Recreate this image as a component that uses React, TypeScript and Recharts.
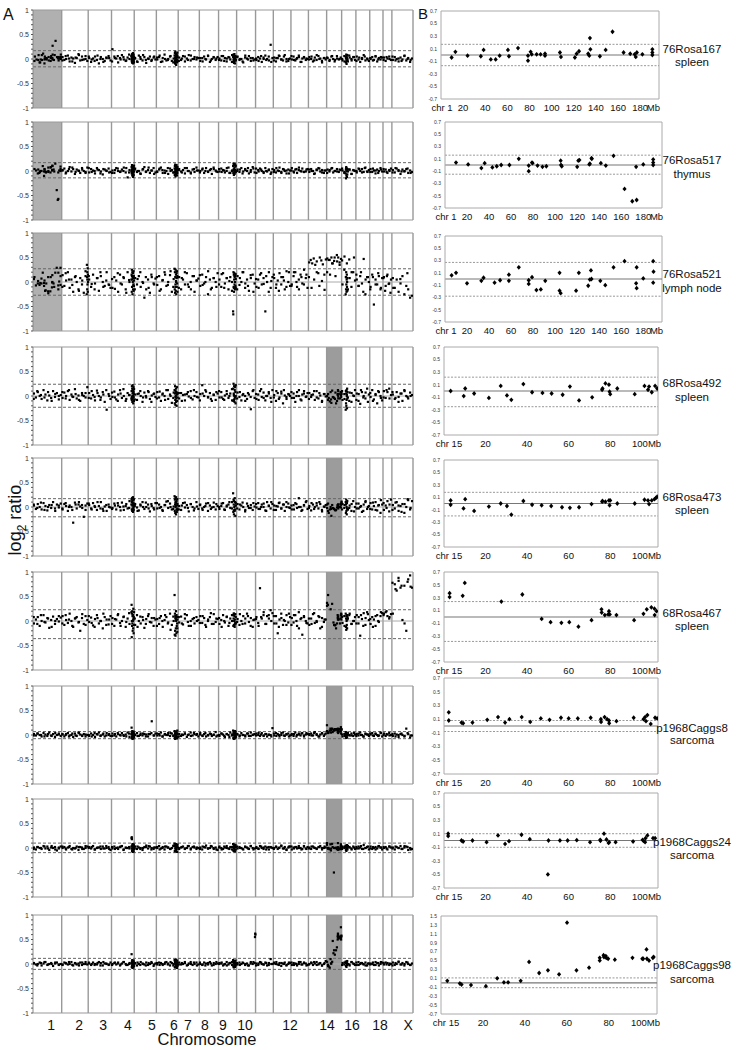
import React from 'react';
import { ScatterChart, Scatter, XAxis, YAxis, ReferenceLine, ReferenceArea } from 'recharts';

// ---------------- DATA ----------------
const CHR_NAMES = ['1','2','3','4','5','6','7','8','9','10','11','12','13','14','15','16','17','18','19','X'];
const CHR_SIZES_MB = [197,182,160,156,152,150,145,132,124,130,122,121,120,125,103,98,95,91,61,145];
const CHR_AXIS_LABELS = ['1','2','3','4','5','6','7','8','9','10','12','14','16','18','X'];
const CHR_AXIS_LABEL_POS = [124,316,481,652,817,968,1064,1181,1304,1456,1765,2019,2190,2382,2575];

const SAMPLES = ['76Rosa167','76Rosa517','76Rosa521','68Rosa492','68Rosa473','68Rosa467','p1968Caggs8','p1968Caggs24','p1968Caggs98'];
const TISSUES = ['spleen','thymus','lymph node','spleen','spleen','spleen','sarcoma','sarcoma','sarcoma'];
const ZOOM_CHR = [1,1,1,15,15,15,15,15,15];

const LEFT_UPPER = [0.17,0.17,0.27,0.24,0.17,0.23,0.07,0.1,0.115];
const LEFT_LOWER = [-0.16,-0.14,-0.27,-0.23,-0.2,-0.36,-0.075,-0.095,-0.11];
const RIGHT_UPPER = [0.17,0.16,0.27,0.22,0.18,0.24,0.08,0.1,0.11];
const RIGHT_LOWER = [-0.17,-0.15,-0.28,-0.25,-0.2,-0.38,-0.08,-0.1,-0.11];

const LEFT_Y_TICKS = [-1,-0.9,-0.8,-0.7,-0.6,-0.5,-0.4,-0.3,-0.2,-0.1,0,0.1,0.2,0.3,0.4,0.5,0.6,0.7,0.8,0.9,1];
const RIGHT_Y_TICKS = [-0.7,-0.5,-0.3,-0.1,0.1,0.3,0.5,0.7];
const RIGHT_Y_TICKS_WIDE = [-0.7,-0.5,-0.3,-0.1,0.1,0.3,0.5,0.7,0.9,1.1,1.3,1.5];
const CHR1_TICKS = [1,20,40,60,80,100,120,140,160,180,192];
const CHR1_TICK_LABELS = ['chr 1','20','40','60','80','100','120','140','160','180','Mb'];
const CHR15_TICKS = [2.4,20,40,60,80,97.5];
const CHR15_TICK_LABELS = ['chr 15','20','40','60','80','100Mb'];

// genome-wide log2 ratios (hundredths), one string per chromosome; "" = taken from zoom data
const LEFT_1 = [
  "", "4 -2 0 7 -5 3 1 -8 2 10 -3 5 -1 6 -4", "2 -6 1 5 -2 -9 4 0 -4 2 6 -3", "20 5 1 -7 2 8 -1 -4 3 0 6 -2",
  "2 -5 7 0 -3 4 -8 1 5 -2 3 -1", "-1 4 -6 2 9 -3 0 5 -4 1 -2 6", "3 -2 6 -5 1 8 -3 0 4 -1 2", "-4 2 5 -1 7 -6 0 3 -2 4",
  "1 -3 6 2 -5 4 -1 8 0 -2", "5 -2 0 -7 3 1 6 -4 2 -1", "-2 4 1 -6 3 7 0 -3 29 2", "3 -5 2 6 -1 -3 8 0 -4 1",
  "-1 5 -3 2 7 -6 1 4 -2 0", "4 0 -5 3 -2 6 1 -7 2 -1", "2 -4 5 0 -2 6 -1 3", "-3 6 1 -5 3 0 4 -2",
  "5 -1 -6 2 8 -3 1 -4", "0 4 -2 6 -5 2 -1 3", "3 -4 1 5 -2", "-2 4 0 -5 3 -1 6 -3 2 -6 1"];
const LEFT_1B = [
  "", "-3 6 1 -5 3 8 -2 0", "5 -1 -4 7 0 -6 3 2", "-5 2 6 -1 4 -3 9 0", "1 -6 4 8 -2 0 -4 5", "3 7 -5 0 -2 6 -7 2",
  "-4 1 5 -2 7 0 3", "2 -5 0 6 -3 4 1", "-2 6 -4 1 3 -6 5", "4 0 -5 7 -1 2 -3", "1 -4 6 0 -2 5 -6", "-3 2 7 -1 5 -5 0",
  "6 -2 0 4 -6 3 1", "-1 5 -3 8 0 -4 2", "3 -2 6 -5 1 0", "0 -5 2 7 -3 4", "-4 3 0 5 -1", "2 -3 5 -1 4", "-2 4 0",
  "5 -3 1 -4 7 0 -2"];
const LEFT_2 = [
  "", "2 5 -3 0 8 -1 4 -6 3 1 -4 6 0 -2 7", "-3 4 1 -5 6 2 -1 -7 3 0 5 -2", "1 -4 6 0 -2 3 7 -3 -13 2 -1 4",
  "5 -2 0 -6 3 8 -1 2 -4 1 6 -3", "-2 3 7 -4 1 0 -6 5 2 -3 4 1", "4 -1 2 -5 6 0 -3 3 -2 7 1", "0 3 -4 6 -1 2 -6 4 1 -2",
  "-1 5 2 -3 0 7 -4 1 3 -2", "3 -2 6 -1 4 0 -5 2 8 -3", "-4 2 5 0 -2 6 -1 3 -6 4", "2 -3 1 7 -2 4 0 -5 3 1",
  "6 -1 3 -4 2 0 5 -2 -1 4", "-2 4 0 -5 3 6 -1 2 -4 1", "3 -1 5 -3 0 4 -2 2", "1 -4 6 -1 3 -6 2 0",
  "-3 5 0 4 -2 7 -1 2", "4 -2 1 -5 3 0 6 -1", "-1 3 -4 2 5", "2 -3 5 0 -6 3 -1 4 -4 1 -2"];
const LEFT_2B = [
  "", "1 -5 4 7 -2 0 3 -4", "6 -2 0 3 -5 4 1 -3", "-4 2 5 -1 0 6 -3 2", "3 0 -5 4 -2 7 1 -6", "-1 5 2 -4 6 0 -3 3",
  "2 -3 6 0 -5 4 1", "-3 5 0 -2 4 7 -1", "4 -2 1 6 -4 0 2", "0 3 -5 2 6 -2 5", "5 -1 3 -4 0 2 -3", "-2 6 0 -4 3 1 -5",
  "1 -3 4 7 -1 -2 3", "3 0 -6 2 5 -3 1", "-4 2 6 0 -1 3", "5 -2 0 3 -6 1", "0 4 -3 6 -2", "-2 5 1 -4 3", "4 -2 0",
  "-3 6 2 -1 0 5 -4"];
const LEFT_3 = [
  "", "14 -8 3 20 -12 5 -20 10 0 -15 8 -5 -22 12 5", "5 -10 15 -3 8 -18 12 0 -8 20 -5 -12", "-12 10 3 -20 15 -5 8 -15 20 0 5 -8",
  "8 -5 12 -10 0 -32 -15 5 -22 10 -3 7", "-6 12 -15 4 20 -8 0 14 -20 6 -10 9", "10 -15 5 -5 18 -10 0 12 -20 3 7", "-8 15 -3 10 -25 5 -12 8 0 18",
  "5 -10 18 -3 8 -15 10 0 -12 6", "12 -6 0 20 -12 5 -18 8 15 -3", "-10 5 15 -5 8 -60 0 20 -12 10", "8 -12 3 18 -5 10 -15 22 0 -8",
  "-5 12 20 -10 5 15 -3 25 8 -12", "40 45 38 48 35 42 18 50 44 36 15 46", "48 45 15 50 38 43 12 55 50 40 47", "-5 25 10 -15 8 -10 20 3",
  "5 -8 12 -3 47 -25 10 0", "-10 15 -46 5 -5 12 -15 8", "10 -8 15 -3 5", "8 -12 5 -20 -3 12 -25 -8 -15 -32 -28"];
const LEFT_3B = [
  "", "-10 18 5 -6 12 -18 3 22", "12 -4 -15 8 20 -10 3 -6", "6 -14 18 -3 10 -22 4 12", "-15 6 20 -2 10 -12 15 -5",
  "10 -18 3 15 -6 22 -10 2", "-12 8 20 -5 -15 12 3", "14 -6 0 22 -15 8 -10", "-5 16 -12 8 2 -18 12", "-15 8 20 -3 -8 14 -20",
  "6 -12 18 -4 12 -20 2", "15 -5 -18 10 3 -10 20", "-8 20 0 -15 10 -5 15", "10 -12 5 20 -8 2 -16", "20 45 38 50 42 35",
  "44 52 38 46 20 50", "15 -8 20 -20 5 10", "-15 10 -5 18 -12", "8 -18 12 -4 -22", "-12 6 18", "-10 15 -18 5 -22 -12 0"];
const LEFT_4 = [
  "5 -3 8 0 -6 12 3 -9 1 -4 10 -2 6 -7 2", "-4 7 0 10 -8 3 -2 14 -5 1 -10 6 0 -3 18", "6 -5 2 -9 11 0 -3 8 -12 -28 4 -6", "-2 9 -7 3 12 -4 0 -10 6 2 -5 8",
  "3 -8 5 0 -12 7 -3 10 -6 1 4 -2", "8 -3 -10 5 0 12 -6 3 -14 7 -2 4", "-5 6 2 -9 4 -1 10 -7 0 8 -3", "4 22 0 9 -3 6 -10 2 -8 5",
  "-3 8 -6 1 10 -4 5 -9 2 0", "7 -2 -9 4 0 -6 3 -27 10 -4", "-6 3 10 -2 7 -9 0 5 -4 12", "2 -10 6 -3 9 -15 1 -6 4 0",
  "-4 5 -12 8 0 -7 3 10 -2 6", "6 -2 3 -8 10 -5 1 -10 4 -1", "", "-8 4 10 -3 7 -12 1 12",
  "5 -10 -16 8 0 -5 15 3", "-2 12 -7 4 -15 8 0 -9", "10 -4 8 15 2", "3 -6 8 -2 5 -10 12 0 -5 7 2"];
const LEFT_4B = [
  "-6 10 2 -3 8 -10 4 0", "8 -5 12 -1 4 -8 2 6", "-4 10 -2 6 -8 3 12 0", "7 -3 -10 5 14 -6 2 -1", "-7 4 10 -3 0 8 -12 5",
  "-5 9 3 -8 12 0 -4 6", "6 -10 3 8 -4 12 -2", "-9 5 12 -2 -6 3 8", "10 -3 -8 4 0 14 -6", "-5 8 2 -10 6 -2 12",
  "4 -8 14 -4 0 8 -12", "-3 10 -6 5 12 -2 3", "8 -4 0 12 -9 5 -1", "-6 2 10 -3 6 -12 4", "", "10 -6 3 -10 6 0",
  "-8 4 12 -3 7 -12", "6 -10 2 10 -4", "-3 12 -5", "8 -4 -12 5 10 -2 0"];
const LEFT_5 = [
  "3 -4 6 0 -5 8 2 -7 4 -2 10 -3 5 -1 7", "-5 6 2 -8 3 0 -32 9 -3 5 1 4 -20 -6 7", "4 -3 8 0 -6 2 10 -4 1 -8 5 -1", "-2 7 -5 3 0 9 -6 2 -3 12 5 -4",
  "6 -1 -7 3 10 -4 0 5 -9 2 -2 8", "-3 5 0 -8 4 11 -2 7 -5 1 9 -6", "2 -6 8 -1 4 -9 6 0 -3 10 -4", "5 -3 0 7 -8 3 -1 9 -5 2",
  "-4 2 8 -6 1 5 -2 10 -7 3", "6 -5 3 0 -9 7 -2 4 -6 1", "-1 8 -4 5 0 -7 10 2 -3 6", "3 -6 1 9 -3 5 -8 0 7 -2",
  "-5 4 8 -2 18 0 -6 3 10 -4", "2 -7 5 0 8 -3 6 -9 1 4", "", "6 -2 9 -5 3 -8 12 0",
  "-3 7 0 -10 5 10 -4 2", "8 -5 2 10 -7 4 -12 5", "-6 3 12 -9 15", "4 -3 10 -8 2 6 -12 0 14 -5 12"];
const LEFT_5B = [
  "5 -2 9 -6 0 4 -8 3", "-3 8 0 -6 5 10 -2 3", "7 -5 2 10 -3 -8 4 0", "-4 3 8 -7 1 6 -2 10", "2 -8 5 0 9 -3 6 -5",
  "8 -2 -6 4 12 0 -4 3", "-5 3 9 -2 6 -7 1", "4 -6 2 8 -4 0 6", "0 7 -5 3 10 -3 -7", "-3 5 9 -6 2 -2 8",
  "6 -4 0 7 -8 3 10", "-6 2 8 -3 5 10 -1", "3 -5 6 0 -8 4 12", "-2 8 -4 3 10 -6 0", "", "-5 4 10 -2 6 -9",
  "7 -3 2 -8 12 0", "-4 9 -6 3 14", "8 -2 5", "-6 9 3 -10 6 16 -2"];
const LEFT_6 = [
  "-5 3 8 -10 0 12 -3 6 -14 2 9 -6 4 -1 7", "10 -8 2 -4 15 0 -12 5 8 -3 -20 6 -6 10 2", "-2 7 -9 4 12 -5 0 -15 8 3 -7 10", "6 -10 3 14 -4 0 9 -12 5 -6 18 2",
  "-8 12 0 -5 8 -14 4 10 -2 6 -10 3", "4 -6 10 -12 2 8 -3 15 -8 0 6 -15", "-3 9 -7 5 12 -10 0 4 -5 8 2", "10 -4 6 -12 0 8 -6 14 -2 4",
  "-6 2 12 -3 8 -10 5 0 15 -5", "4 -8 0 10 -5 15 -2 6 -12 3", "8 -4 67 5 12 -6 10 5 22 16", "-5 10 -25 3 15 -8 0 12 -3 8",
  "6 -3 12 -10 18 4 -28 8 0 -5", "-8 5 14 -4 0 10 -15 6 -2 3", "", "-4 10 -12 5 15 -6 0 8",
  "12 -5 -30 4 16 -8 18 2", "-6 8 3 -10 12 -2 10 16", "15 18 10 5 14", "15 75 62 82 68 2 72 -20 85 93 68"];
const LEFT_6B = [
  "8 -6 12 -2 5 -12 0 10", "-5 12 3 -10 6 -2 14 -8", "10 -4 -12 6 0 15 -8 3", "-6 4 12 -10 8 -2 16 0", "5 -12 9 2 -6 14 -3 6",
  "-10 6 0 12 -5 -18 9 3", "8 -5 14 -2 -10 6 0", "-4 10 -8 3 16 -6 5", "6 -12 0 9 -4 12 -8", "-2 14 -6 5 10 -10 2",
  "4 -10 8 18 -6 12 0", "10 -5 -12 6 2 -8 15", "-8 12 0 -15 6 10 -4", "5 -6 16 -2 8 -12 3", "", "8 -10 4 12 -6 0",
  "-5 8 12 -10 6 14", "4 -12 10 0 18", "12 20 8", "78 65 88 72 -5 80 70"];
const LEFT_7 = [
  "2 -1 3 0 -3 4 1 -2 5 -1 2 -4 0 3 -2", "1 -3 2 4 -1 0 -4 3 -2 5 1 -1 2 -3 0", "-2 3 0 -4 2 5 -1 1 -3 4 0 -2", "3 -1 -3 2 0 4 -2 1 5 -4 2 0",
  "0 4 -2 3 -1 2 1 -3 2 28 -1 3", "-1 2 5 -3 1 0 4 -2 3 -1 2 -4", "2 -2 0 3 -4 1 5 -1 2 0 -3", "4 -1 2 -3 0 3 -2 1 6 -1",
  "-2 3 1 -4 2 0 5 -1 3 -2", "1 -3 4 0 -1 3 -2 5 0 2", "3 0 -2 4 -1 2 -3 1 0 14", "-1 4 2 -3 0 5 -2 1 3 -1",
  "2 -2 5 0 3 -1 4 -3 1 2", "0 3 -1 6 2 -3 1 4 -2 3", "", "-3 2 0 4 -1 3 -2 1",
  "2 -1 5 0 -3 3 1 -2", "1 4 -2 3 0 -1 5 -3", "3 -2 1 4 0", "-2 3 1 -4 2 0 -3 13 2 -5 -1"];
const LEFT_7B = [
  "-1 3 0 -3 2 -2 4 1", "2 0 -3 3 -1 4 -2 1", "0 -3 4 1 -2 3 -1 2", "-2 2 4 -1 0 -3 3 1", "1 -2 0 3 -3 2 4 -1",
  "3 -1 -3 2 0 4 -2 1", "-3 1 3 0 -2 4 2", "1 -2 4 -1 2 0 -3", "0 3 -2 2 -4 1 4", "2 -1 0 -3 3 -2 1",
  "-1 4 1 -2 2 0 -3", "3 -2 0 4 -1 2 -3", "0 2 -3 1 3 -1 4", "2 -1 4 0 -3 3 1", "", "1 -2 3 0 -1 4",
  "-2 3 0 -3 2 1", "3 -1 2 -2 4", "0 2 -1", "2 -3 0 3 -2 4 -1"];
const LEFT_8 = [
  "1 -3 2 0 -2 4 -1 3 -4 1 0 2 -5 -1 3", "0 2 -3 1 4 -2 0 -1 3 -4 2 1 -2 0 3", "2 -1 4 -3 0 1 -2 3 -1 0 2 -4", "-1 3 0 -2 2 4 -3 1 0 -1 3 2",
  "3 -2 1 0 -4 2 5 -1 3 0 -2 1", "0 4 -1 2 -3 3 1 -2 0 5 -1 2", "-2 1 3 -1 0 4 -3 2 1 -2 0", "1 -3 2 5 -1 0 3 -2 1 -4",
  "3 0 -2 1 4 -1 2 -3 0 2", "-1 2 0 -3 3 1 -2 4 0 -1", "2 -1 4 0 -2 3 1 -3 2 0", "0 3 -2 1 5 -1 2 -4 1 3",
  "-3 1 2 -1 4 0 -2 3 -1 2", "1 -2 3 0 -1 2 4 -3 0 1", "", "2 0 -3 4 1 -1 3 -2",
  "-1 3 1 -2 6 0 2 -3", "3 -2 0 2 -1 4 1 -3", "0 2 -3 3 1", "1 -3 2 0 4 -2 1 3 -4 0 -2"];
const LEFT_8B = [
  "-2 2 0 3 -1 4 -3 1", "3 -1 2 -3 0 2 -2 4", "0 2 -3 1 3 -1 4 -2", "2 -2 1 3 -4 0 2 -1", "-1 3 -2 0 2 4 -3 1",
  "2 -3 0 3 1 -2 4 -1", "0 2 -2 4 -1 3 1", "-2 3 1 -1 4 0 -3", "1 -3 3 0 -2 2 4", "3 0 -2 2 -1 4 -3",
  "0 -2 3 1 -3 2 1", "-2 2 0 4 -1 -3 3", "3 -1 2 0 -3 4 -2", "-1 3 1 -2 2 0 3", "", "-2 3 0 2 -3 1",
  "2 -1 4 -2 0 3", "-1 2 -3 3 1", "2 -1 3", "-1 3 0 -2 4 2 -3"];
const LEFT_9 = [
  "2 -1 0 3 -3 1 4 -2 0 2 -4 1 3 -1 0", "-2 3 1 -1 0 4 -3 2 -1 1 3 -2 0 4 -1", "1 -2 3 0 -1 4 2 -3 1 0 -2 3", "0 2 -1 3 -3 1 4 0 -2 2 1 -1",
  "2 -3 0 4 1 -1 3 -2 0 2 -4 1", "-1 3 2 -2 0 4 1 -3 2 0 3 -1", "3 -1 0 2 -3 1 4 -2 0 3 -1", "0 -2 3 1 -1 4 -3 2 0 1",
  "2 1 -3 0 4 -1 2 -2 3 0", "-1 3 0 2 -2 1 -3 4 0 2", "1 -2 4 0 -1 3 -3 2 10 0", "3 0 -1 2 -4 1 3 -2 0 2",
  "-2 2 1 -3 0 4 -1 3 1 -2", "0 3 -2 1 4 -1 2 -3 0 6", "", "2 -1 3 0 -3 4 1 -2",
  "-2 4 0 2 -1 3 -3 1", "1 0 -2 4 2 -3 0 3", "-1 3 2 -2 0", "3 -2 0 5 -1 2 -3 4 0 -2 1"];
const LEFT_9B = [
  "1 -3 2 4 -1 0 3 -2", "-1 2 4 -2 1 -3 3 0", "3 0 -2 2 -3 4 1 -1", "-2 3 1 -1 4 -2 0 2", "1 3 -2 0 -3 2 4 -1",
  "2 -2 0 3 -1 4 -3 1", "-1 2 4 -2 0 3 -3", "3 -1 -3 2 1 -2 4", "0 3 -1 -3 2 4 -2", "2 -2 3 0 -3 1 4",
  "-3 1 3 -1 2 -2 0", "1 4 -2 2 0 -3 3", "3 -2 0 4 -1 2 -3", "-1 2 4 -2 1 -3 2", "", "-2 3 1 -1 4 0",
  "3 -2 2 0 -3 1", "-1 3 -2 2 4", "2 -1 1", "-3 2 4 -1 0 3 -2"];

// dense probe clusters: chromosome, start Mb, end Mb, values (hundredths)
const CLUSTERS_1 = [
  { chr: 4, from: 138, to: 155, v: "5 -3 8 -6 2 10 -8 4 -1 7 -4 12 0 -9 3 6 -2 9 -5 1 -7 4" },
  { chr: 6, from: 125, to: 145, v: "7 -4 12 -8 3 15 -10 0 9 -6 5 -12 2 11 -3 8 -7 4 -1 13 -5" },
  { chr: 9, from: 100, to: 118, v: "4 -6 9 -2 7 -8 1 10 -4 3 -9 6 0 5 -3" },
  { chr: 16, from: 28, to: 40, v: "5 -7 2 9 -4 -10 6 0 -3 8 -1" }];
const CLUSTERS_2 = [
  { chr: 4, from: 138, to: 155, v: "8 -5 3 12 -2 -9 6 0 10 -6 4 -12 2 9 -3 7 -8 5 -1 11" },
  { chr: 6, from: 125, to: 145, v: "5 -8 10 -3 13 0 -11 7 -5 3 9 -7 1 12 -2 6 -9 4 -4 8" },
  { chr: 9, from: 100, to: 118, v: "10 -4 15 3 -8 12 0 6 -6 14 2 -3 9 -1 11" },
  { chr: 16, from: 28, to: 40, v: "-5 3 -15 8 -9 0 5 -12 2 -7 4" }];
const CLUSTERS_3 = [
  { chr: 2, from: 172, to: 181, v: "-25 35 10 -15 20 -5 28 -20 15 0" },
  { chr: 4, from: 138, to: 155, v: "15 -20 25 -10 5 20 -25 10 0 18 -15 8 -5 22 -18 12 -8 3" },
  { chr: 6, from: 125, to: 145, v: "27 -15 20 -22 10 -5 25 -18 15 0 -25 8 18 -10 22 -3 12 -20" },
  { chr: 9, from: 100, to: 118, v: "-60 -66 20 -10 15 -20 5 18 -5 10 -15 0 12 -8 16 -12" },
  { chr: 16, from: 28, to: 40, v: "-25 10 -15 20 -5 -20 5 15 -10 0 -18 8" }];
const CLUSTERS_4 = [
  { chr: 4, from: 138, to: 155, v: "10 -8 20 -3 15 -12 5 22 -6 0 12 -15 8 18 -2 4 -10 14" },
  { chr: 6, from: 125, to: 145, v: "12 -15 5 20 -8 -18 10 0 15 -12 -5 8 -20 3 18 -10 6 -3" },
  { chr: 9, from: 100, to: 118, v: "15 -10 25 5 -8 20 0 -12 12 -3 18 8 -15 22" },
  { chr: 16, from: 28, to: 40, v: "-28 10 -15 5 -20 12 -8 0 -25 15 -5 8" }];
const CLUSTERS_5 = [
  { chr: 4, from: 138, to: 155, v: "15 -5 10 18 -8 3 12 -3 8 20 -10 5 14 0 -6 16 2 7" },
  { chr: 6, from: 125, to: 145, v: "22 -8 15 5 -12 18 0 10 -15 20 8 -5 12 -10 3 16 -3 6" },
  { chr: 9, from: 100, to: 118, v: "28 -10 15 5 -15 12 0 -8 18 -5 10 -18 3 8" },
  { chr: 16, from: 28, to: 40, v: "10 -12 5 15 -8 0 -15 8 -3 12 -5" }];
const CLUSTERS_6 = [
  { chr: 4, from: 138, to: 155, v: "33 -33 15 -10 20 -5 10 -20 0 12 -15 25 5 -25 8 -8 18" },
  { chr: 6, from: 125, to: 145, v: "53 -28 15 -20 10 -30 5 -15 20 0 -25 12 -10 8 -5 -22 3" },
  { chr: 9, from: 100, to: 118, v: "12 -10 5 15 -8 0 10 -12 3 -5 14 -3 8" },
  { chr: 16, from: 28, to: 40, v: "15 -12 5 -18 10 0 -8 12 -15 3 8" }];
const CLUSTERS_7 = [
  { chr: 4, from: 138, to: 155, v: "15 -6 5 -3 8 -8 2 6 -5 0 4 -7 7 -2 3 -4" },
  { chr: 6, from: 125, to: 145, v: "8 -5 3 -8 6 0 -3 7 -6 4 -2 5 -7 2 9 -4" },
  { chr: 9, from: 100, to: 118, v: "9 -6 4 -8 7 0 -4 5 -7 2 8 -3 6 -5" },
  { chr: 16, from: 28, to: 40, v: "6 -4 2 -6 5 -2 4 -5 3 0" }];
const CLUSTERS_8 = [
  { chr: 4, from: 138, to: 155, v: "20 22 18 -6 5 -3 8 -8 2 6 -5 0 4 -7 7 -2 3" },
  { chr: 6, from: 125, to: 145, v: "9 -6 4 -7 6 0 -3 8 -5 3 -2 5 -8 2 7" },
  { chr: 9, from: 100, to: 118, v: "8 -5 3 -6 7 0 -4 5 -7 2 6 -3" },
  { chr: 16, from: 28, to: 40, v: "5 -4 2 -6 4 -2 6 0 -3" }];
const CLUSTERS_9 = [
  { chr: 4, from: 138, to: 155, v: "20 -6 5 -3 8 -8 2 6 -5 0 4 -7 7 -2 3 -4" },
  { chr: 6, from: 125, to: 145, v: "8 -6 4 -7 6 0 -3 9 -5 3 -2 5 -8 2 7 -4" },
  { chr: 9, from: 100, to: 118, v: "8 -5 3 -7 6 0 -4 5 -6 2 7 -3" },
  { chr: 10, from: 126, to: 129, v: "55 62 60" },
  { chr: 16, from: 28, to: 40, v: "5 -4 2 -6 4 -2 6 0" }];

// zoomed chromosome data: [position Mb, log2 ratio]
const ZOOM_1 = [[9.6,-0.04],[13,0.05],[24,-0.01],[36,-0.02],[38.5,0.08],[45,-0.07],[49.4,-0.07],[53,-0.01],[60.5,0.08],[61.4,-0.02],[69.6,0.11],[78.6,-0.01],[78.6,-0.09],[81,0.05],[82,0.01],[86.4,0.01],[90,0.01],[94,0.02],[94,-0.01],[107.5,0.04],[108.4,-0.03],[121,-0.04],[122.6,0.02],[124.7,0.06],[133,0.02],[134.6,0.27],[135,0.09],[134,-0.01],[143.6,-0.02],[148.8,0.08],[155,0.37],[165,0.04],[171,0.02],[175,0.01],[176,-0.03],[177,0.04],[182,0.01],[191,0.09],[191,0.04],[191,0.0]];
const ZOOM_2 = [[10,0.04],[21,0.01],[33,-0.05],[36,0.03],[43,-0.04],[47,-0.02],[51,0.0],[58.5,0.0],[67,0.1],[76,-0.01],[76,-0.1],[79,0.04],[79.5,0.03],[84,-0.01],[88.5,-0.03],[92,-0.02],[105,0.07],[105.3,0.0],[106,-0.02],[120,-0.03],[121,0.07],[122,0.08],[131,0.01],[131.5,0.02],[133,0.11],[133.3,0.1],[141.5,0.03],[146,-0.01],[153,0.15],[163,-0.39],[170,-0.59],[174,-0.57],[173.5,-0.03],[180,0.01],[189,0.09],[189,0.04],[189,0.0]];
const ZOOM_3 = [[6,0.06],[10,0.1],[20,-0.07],[33,-0.03],[35,0.02],[45,-0.06],[50,-0.02],[58,0.07],[58,-0.03],[67,0.19],[76,-0.02],[76,-0.08],[79,0.03],[83,-0.18],[87,-0.17],[91,-0.03],[104,0.1],[104,-0.19],[105,-0.23],[119,-0.19],[121.5,0.1],[130,-0.11],[131.5,-0.01],[132.5,0.14],[133,0.0],[141,-0.03],[145.5,-0.1],[153,0.19],[163,0.29],[174,0.19],[173.5,-0.07],[174,-0.15],[180,0.01],[189,0.29],[189.3,0.12],[189,-0.06]];
const ZOOM_4 = [[3.2,0.0],[9.5,-0.08],[10.2,0.04],[14.5,-0.04],[21.6,-0.11],[27.3,0.08],[30.3,-0.07],[32.4,-0.14],[38.2,0.11],[42.4,-0.02],[47.4,-0.03],[51.8,-0.04],[57.1,-0.06],[60.6,0.07],[65,-0.15],[71.3,-0.1],[76.1,0.02],[76.3,0.04],[77.7,0.12],[79.4,0.1],[79.7,-0.01],[80,-0.05],[83.4,0.04],[91.8,-0.05],[96.5,0.08],[98.2,0.02],[98.7,0.07],[100,-0.02],[101.6,0.08],[102.6,0.04]];
const ZOOM_5 = [[3.2,0.05],[3.2,-0.02],[9.4,-0.08],[10.2,0.07],[14.5,-0.12],[21.6,-0.05],[27.3,0.0],[30.3,-0.04],[32.4,-0.18],[38.2,0.04],[42.4,-0.02],[47,-0.03],[51.6,-0.04],[56.8,-0.06],[60.6,-0.07],[65,-0.06],[71,-0.01],[76.1,0.03],[76.3,0.04],[77.7,0.03],[79.4,0.05],[79.7,-0.03],[80,0.05],[83.4,0.0],[91.8,0.0],[96.5,0.06],[98.2,0.05],[98.7,-0.01],[100,0.05],[101.3,0.07],[102,0.09],[102.6,0.11]];
const ZOOM_6 = [[2.7,0.37],[2.7,0.31],[9,0.33],[10,0.53],[27.6,0.24],[37.7,0.35],[47,-0.03],[51.3,-0.08],[56.5,-0.09],[60.3,-0.08],[64.7,-0.15],[71,-0.05],[75.8,0.12],[75.9,0.07],[77.4,0.03],[79,0.04],[79.4,0.09],[79.8,0.04],[83,0.03],[91.5,-0.05],[96,0.05],[97.6,0.12],[99.8,0.15],[101.3,0.13],[101.4,0.03],[102.3,0.09]];
const ZOOM_7 = [[2.3,0.2],[2.3,0.08],[8.4,0.05],[9.2,0.04],[13.7,0.05],[20.8,0.09],[26,0.13],[29.4,0.05],[31.5,0.1],[37.4,0.13],[41.5,0.06],[46.6,0.11],[50.8,0.09],[56.3,0.12],[60,0.11],[64.4,0.11],[70.6,0.12],[75.5,0.1],[75.6,0.06],[77.3,0.13],[78.5,0.1],[79.4,0.08],[79.5,0.04],[83,0.07],[91.3,0.12],[96,0.1],[96.8,0.13],[97.9,0.16],[97.2,0.07],[99.5,0.03],[101.6,0.12],[102.6,0.11]];
const ZOOM_8 = [[2,0.1],[2,0.065],[8.4,0.0],[9.2,-0.015],[13.7,0.0],[20.5,-0.025],[26,0.075],[29.4,-0.05],[31.3,-0.01],[37.3,0.085],[41.3,0.02],[50,-0.5],[50.3,0.0],[55.8,0.0],[59.5,0.0],[63.9,0.005],[70.3,-0.025],[75.2,0.01],[75.3,-0.005],[77,0.1],[78.2,0.015],[79.2,-0.035],[79.5,-0.025],[82.6,-0.025],[91,-0.015],[95.6,0.01],[96,-0.005],[96.8,-0.025],[97,0.035],[97.9,0.075],[100.6,0.035],[101.6,0.035]];
const ZOOM_9 = [[3,0.045],[9,-0.015],[9.8,-0.04],[14.3,-0.05],[21.4,-0.075],[26.8,0.1],[30,0.01],[32,0.01],[38,0.045],[42,0.47],[46.8,0.22],[51,0.28],[56.3,0.19],[60.1,1.35],[64.6,0.28],[70.6,0.34],[75.7,0.56],[75.7,0.5],[77.5,0.62],[77.7,0.58],[78.6,0.6],[78.8,0.56],[79.7,0.54],[82.9,0.52],[91.3,0.56],[96,0.54],[96.4,0.54],[98,0.75],[98.2,0.54],[99.2,0.5],[101,0.56],[101.4,0.58]];

const LEFT_ROWS = [LEFT_1, LEFT_2, LEFT_3, LEFT_4, LEFT_5, LEFT_6, LEFT_7, LEFT_8, LEFT_9];
const LEFT_ROWS_B = [LEFT_1B, LEFT_2B, LEFT_3B, LEFT_4B, LEFT_5B, LEFT_6B, LEFT_7B, LEFT_8B, LEFT_9B];
const CLUSTER_ROWS = [CLUSTERS_1, CLUSTERS_2, CLUSTERS_3, CLUSTERS_4, CLUSTERS_5, CLUSTERS_6, CLUSTERS_7, CLUSTERS_8, CLUSTERS_9];
const ZOOM_ROWS = [ZOOM_1, ZOOM_2, ZOOM_3, ZOOM_4, ZOOM_5, ZOOM_6, ZOOM_7, ZOOM_8, ZOOM_9];

// ---------------- LAYOUT ----------------
const FONT = '"Liberation Sans", Arial, Helvetica, sans-serif';
const LEFT_TOPS = [10, 122, 233, 347, 458, 572, 686, 799, 915];
const LEFT_H = 98;
const RIGHT_BOX = [[11,99,441,659],[122,208,445,662],[236,322,445,662],[347,435,444,658],[460,547,444,658],[572,662,444,658],[678,774,444,658],[793,888,444,658],[916,1014,441,657]];
const LABEL_Y = [[49,62],[160,174],[274,288],[383,397],[497,510],[613,626],[728,740],[842,855],[965,979]];

const CHR_START: number[] = [];
CHR_SIZES_MB.reduce((acc, s, i) => { CHR_START[i] = acc; return acc + s; }, 0);
const GENOME_TOTAL = CHR_SIZES_MB.reduce((a, b) => a + b, 0);

const parseVals = (s: string) => (s.trim() ? s.trim().split(/\s+/).map((v) => Number(v) / 100) : []);

function buildLeft(row: number) {
  const pts: { x: number; y: number }[] = [];
  [LEFT_ROWS[row], LEFT_ROWS_B[row]].forEach((set, k) => {
    set.forEach((s, i) => {
      const v = parseVals(s);
      const off = k === 0 ? 0.5 : 0.2;
      v.forEach((y, j) => pts.push({ x: CHR_START[i] + (CHR_SIZES_MB[i] * (j + off)) / v.length, y }));
    });
  });
  CLUSTER_ROWS[row].forEach((c) => {
    const v = parseVals(c.v);
    v.forEach((y, j) => pts.push({ x: CHR_START[c.chr - 1] + c.from + ((c.to - c.from) * (v.length > 1 ? j / (v.length - 1) : 0.5)), y }));
  });
  const zc = ZOOM_CHR[row] - 1;
  ZOOM_ROWS[row].forEach(([mb, y]) => pts.push({ x: CHR_START[zc] + mb, y }));
  return pts;
}

const SmallSquare = (p: any) => <rect x={p.cx - 1.1} y={p.cy - 1.1} width={2.2} height={2.2} fill="#000" />;
const Diamond = (p: any) => (
  <polygon points={`${p.cx},${p.cy - 2.4} ${p.cx + 2.1},${p.cy} ${p.cx},${p.cy + 2.4} ${p.cx - 2.1},${p.cy}`} fill="#000" />
);

const LeftYTick = (p: any) => {
  const v = p.payload.value;
  if (Math.abs(v * 2 - Math.round(v * 2)) > 1e-6) return <g />;
  const label = Math.abs(v) < 1e-9 ? '0' : String(Math.round(v * 10) / 10);
  return <text x={p.x} y={p.y} dy={2.5} textAnchor="end" fontSize={7} fill="#333" fontFamily={FONT}>{label}</text>;
};
const RightYTick = (p: any) => (
  <text x={p.x} y={p.y} dy={1.8} textAnchor="end" fontSize={5} fill="#333" fontFamily={FONT}>{p.payload.value.toFixed(1)}</text>
);
const ChrTick = (p: any) => {
  const i = CHR_AXIS_LABEL_POS.indexOf(p.payload.value);
  return <text x={p.x} y={p.y + 17} textAnchor="middle" fontSize={14} fill="#111" fontFamily={FONT}>{CHR_AXIS_LABELS[i]}</text>;
};
const makeRightXTick = (ticks: number[], labels: string[]) => (p: any) => {
  const i = ticks.indexOf(p.payload.value);
  return <text x={p.x} y={p.y + 11.5} textAnchor="middle" fontSize={9.5} fill="#111" fontFamily={FONT}>{labels[i]}</text>;
};
const Chr1XTick = makeRightXTick(CHR1_TICKS, CHR1_TICK_LABELS);
const Chr15XTick = makeRightXTick(CHR15_TICKS, CHR15_TICK_LABELS);

function LeftPanel({ row }: { row: number }) {
  const isLast = row === 8;
  const mt = 4;
  const mb = isLast ? 0 : 4;
  const xh = isLast ? 34 : 0;
  const H = LEFT_H + mt + mb + xh;
  const zc = ZOOM_CHR[row] - 1;
  const gray = zc === 0 ? '#b0b0b0' : '#9c9c9c';
  const data = buildLeft(row);
  const boundaries = CHR_START.slice(1);
  return (
    <div style={{ position: 'absolute', left: 0, top: LEFT_TOPS[row] - mt }}>
      <ScatterChart width={416} height={H} margin={{ top: mt, right: 3, bottom: mb, left: 0 }}>
        <XAxis type="number" dataKey="x" domain={[0, GENOME_TOTAL]} allowDataOverflow hide={!isLast}
          ticks={CHR_AXIS_LABEL_POS} interval={0} tick={ChrTick} tickLine={false} axisLine={false}
          height={xh} tickSize={0} tickMargin={0} />
        <YAxis type="number" dataKey="y" domain={[-1, 1]} allowDataOverflow ticks={LEFT_Y_TICKS} interval={0}
          width={33} tick={LeftYTick} tickSize={2} tickMargin={2} tickLine={{ stroke: '#555' }} axisLine={{ stroke: '#888' }} />
        <ReferenceArea x1={CHR_START[zc]} x2={CHR_START[zc] + CHR_SIZES_MB[zc]} y1={-1} y2={1} fill={gray} fillOpacity={1} stroke="none" />
        {boundaries.map((b) => <ReferenceLine key={b} x={b} stroke="#999" strokeWidth={1.4} />)}
        <ReferenceLine x={GENOME_TOTAL} stroke="#999" strokeWidth={1.4} />
        <ReferenceLine y={1} stroke="#999" />
        <ReferenceLine y={-1} stroke="#999" />
        <ReferenceLine y={0} stroke="#aaa" />
        <ReferenceLine y={LEFT_UPPER[row]} stroke="#666" strokeDasharray="3 2" />
        <ReferenceLine y={LEFT_LOWER[row]} stroke="#666" strokeDasharray="3 2" />
        <Scatter data={data} isAnimationActive={false} shape={SmallSquare} />
      </ScatterChart>
    </div>
  );
}

function RightPanel({ row }: { row: number }) {
  const [top, bottom, l, r] = RIGHT_BOX[row];
  const yw = 16, mt = 4, xh = 16;
  const W = r - l + yw + 3;
  const H = bottom - top + mt + xh;
  const isChr1 = ZOOM_CHR[row] === 1;
  const xmax = CHR_SIZES_MB[ZOOM_CHR[row] - 1];
  const yTicks = row === 8 ? RIGHT_Y_TICKS_WIDE : RIGHT_Y_TICKS;
  const ymin = yTicks[0], ymax = yTicks[yTicks.length - 1];
  const data = ZOOM_ROWS[row].map(([x, y]) => ({ x, y }));
  return (
    <div style={{ position: 'absolute', left: l - yw, top: top - mt }}>
      <ScatterChart width={W} height={H} margin={{ top: mt, right: 3, bottom: 0, left: 0 }}>
        <XAxis type="number" dataKey="x" domain={[0, xmax]} allowDataOverflow
          ticks={isChr1 ? CHR1_TICKS : CHR15_TICKS} interval={0} tick={isChr1 ? Chr1XTick : Chr15XTick}
          tickLine={false} axisLine={false} height={xh} tickSize={0} tickMargin={0} />
        <YAxis type="number" dataKey="y" domain={[ymin, ymax]} allowDataOverflow ticks={yTicks} interval={0}
          width={yw} tick={RightYTick} tickSize={2} tickMargin={2} tickLine={false} axisLine={{ stroke: '#aaa' }} />
        <ReferenceLine x={xmax} stroke="#aaa" />
        <ReferenceLine y={ymax} stroke="#aaa" />
        <ReferenceLine y={ymin} stroke="#aaa" />
        <ReferenceLine y={RIGHT_UPPER[row]} stroke="#999" strokeDasharray="2 1.5" />
        <ReferenceLine y={RIGHT_LOWER[row]} stroke="#999" strokeDasharray="2 1.5" />
        <ReferenceLine y={0} stroke="#777" strokeWidth={1.2} />
        <Scatter data={data} isAnimationActive={false} shape={Diamond} />
      </ScatterChart>
    </div>
  );
}

export default function App() {
  const rows = [0, 1, 2, 3, 4, 5, 6, 7, 8];
  return (
    <div style={{ position: 'absolute', left: 0, top: 0, width: 736, height: 1050, background: '#fff', overflow: 'hidden' }}>
      {rows.map((r) => <LeftPanel key={'l' + r} row={r} />)}
      {rows.map((r) => <RightPanel key={'r' + r} row={r} />)}
      <svg width={736} height={1050} style={{ position: 'absolute', left: 0, top: 0, pointerEvents: 'none' }}>
        <text x={3} y={20} fontSize={16} fontFamily={FONT} fill="#111">A</text>
        <text x={418} y={19} fontSize={15} fontFamily={FONT} fill="#111">B</text>
        <text transform="translate(21,520) rotate(-90)" textAnchor="middle" fontSize={18} fontFamily={FONT} fill="#111">
          log<tspan dy={5} fontSize={12}>2</tspan><tspan dy={-5}> ratio</tspan>
        </text>
        <text x={207} y={1045} textAnchor="middle" fontSize={16.5} fontFamily={FONT} fill="#111">Chromosome</text>
        {rows.map((r) => (
          <g key={'t' + r}>
            <text x={692} y={LABEL_Y[r][0] + 4} textAnchor="middle" fontSize={11.5} fontFamily={FONT} fill="#111">{SAMPLES[r]}</text>
            <text x={692} y={LABEL_Y[r][1] + 4} textAnchor="middle" fontSize={11.5} fontFamily={FONT} fill="#111">{TISSUES[r]}</text>
          </g>
        ))}
      </svg>
    </div>
  );
}
